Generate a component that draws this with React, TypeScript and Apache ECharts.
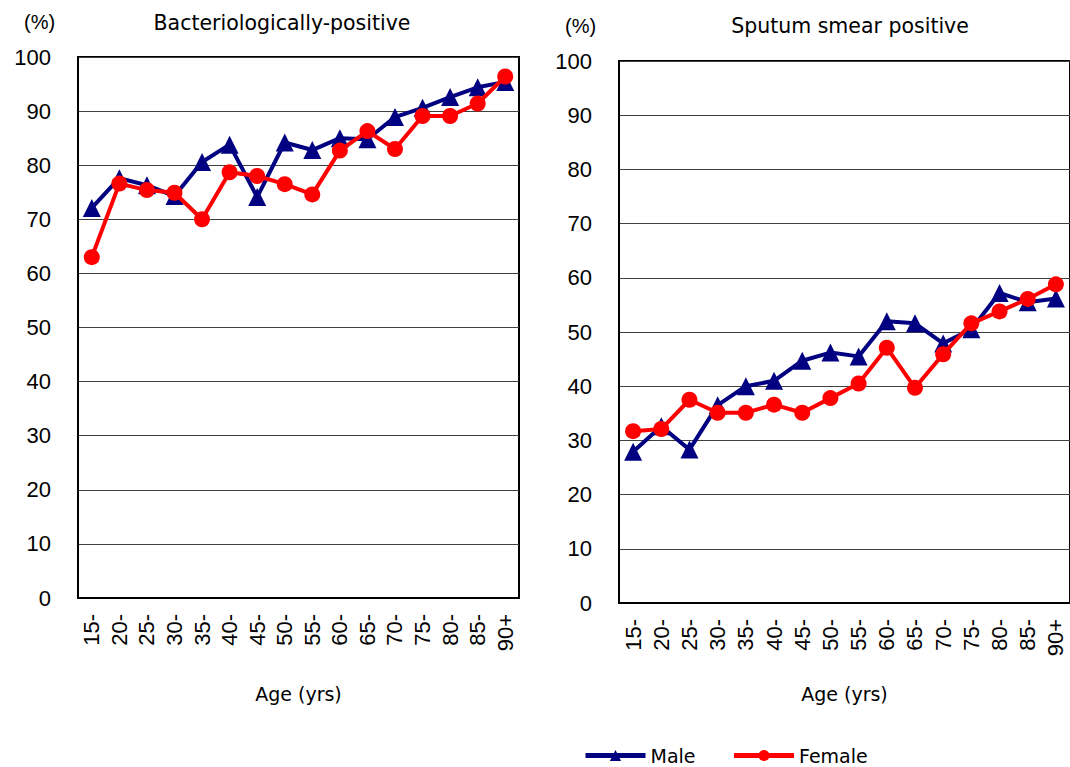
import React, { useEffect, useRef } from "react";
import * as echarts from "echarts";

const ageGroups = ["15-", "20-", "25-", "30-", "35-", "40-", "45-", "50-", "55-", "60-", "65-", "70-", "75-", "80-", "85-", "90+"];

const bactMale = [72.1, 77.6, 76.3, 74.3, 80.6, 83.8, 74.1, 84.2, 82.8, 85.0, 84.8, 88.9, 90.6, 92.6, 94.4, 95.4];
const bactFemale = [63.0, 76.6, 75.4, 74.9, 70.0, 78.7, 78.0, 76.5, 74.6, 82.7, 86.3, 83.0, 89.1, 89.1, 91.4, 96.4];

const smearMale = [27.9, 32.6, 28.3, 36.5, 40.0, 41.0, 44.7, 46.2, 45.5, 52.0, 51.6, 47.9, 50.5, 57.2, 55.5, 56.2];
const smearFemale = [31.7, 32.1, 37.5, 35.1, 35.1, 36.6, 35.1, 37.8, 40.5, 47.1, 39.7, 45.9, 51.6, 53.8, 56.1, 58.8];

const yTicks = { min: 0, max: 100, interval: 10 };

const FONT = "'Liberation Sans', Arial, sans-serif";
const WIDE = "'DejaVu Sans', 'Liberation Sans', sans-serif";
const NAVY = "#000080";
const RED = "#ff0000";

export default function App() {
  const ref = useRef<HTMLDivElement>(null);
  useEffect(() => {
    if (!ref.current) return;
    const chart = echarts.init(ref.current, null, { renderer: "svg" });
    const mkX = (gi: number, gap: number) => ({
      type: "category",
      gridIndex: gi,
      data: ageGroups,
      boundaryGap: true,
      axisLine: { lineStyle: { color: "#000", width: 2 } },
      axisTick: { inside: true, length: 5, lineStyle: { color: "#000", width: 1 } },
      axisLabel: { rotate: 90, fontSize: 22, color: "#000", fontFamily: FONT, margin: 16, interval: 0 },
      name: "Age (yrs)",
      nameLocation: "middle",
      nameGap: gap,
      nameTextStyle: { fontSize: 19, color: "#000", fontFamily: WIDE },
    });
    const mkY = (gi: number) => ({
      type: "value",
      gridIndex: gi,
      min: yTicks.min,
      max: yTicks.max,
      interval: yTicks.interval,
      axisLine: { show: true, lineStyle: { color: "#000", width: 2 } },
      axisTick: { show: false },
      splitLine: { lineStyle: { color: "#404040", width: 1 } },
      axisLabel: { fontSize: 22, color: "#000", fontFamily: FONT, margin: 27 },
    });
    const mkSeries = (name: string, data: number[], gi: number, male: boolean) => ({
      name,
      type: "line",
      xAxisIndex: gi,
      yAxisIndex: gi,
      data,
      symbol: male ? "triangle" : "circle",
      symbolSize: male ? 18 : 16,
      lineStyle: { color: male ? NAVY : RED, width: 4 },
      itemStyle: { color: male ? NAVY : RED },
      z: male ? 2 : 3,
    });
    const ts = { fontSize: 20.5, fontWeight: "normal", color: "#000", fontFamily: WIDE };
    chart.setOption({
      animation: false,
      backgroundColor: "#fff",
      textStyle: { fontFamily: FONT },
      title: [
        { text: "Bacteriologically-positive", left: 277, top: 7, textAlign: "center", textStyle: ts },
        { text: "Sputum smear positive", left: 845, top: 10, textAlign: "center", textStyle: ts },
        { text: "(%)", left: 19, top: 7, textStyle: { ...ts, fontSize: 20, fontFamily: FONT } },
        { text: "(%)", left: 560, top: 11, textStyle: { ...ts, fontSize: 20, fontFamily: FONT } },
      ],
      legend: {
        data: ["Male", "Female"],
        left: 578,
        top: 741,
        itemWidth: 60,
        itemHeight: 14,
        itemGap: 36,
        lineStyle: { width: 5 },
        textStyle: { fontSize: 19, color: "#000", fontFamily: WIDE },
      },
      grid: [
        { left: 78, top: 57, width: 441, height: 541, show: true, borderColor: "#000", borderWidth: 2, backgroundColor: "transparent" },
        { left: 619, top: 61, width: 453, height: 542, show: true, borderColor: "#000", borderWidth: 2, backgroundColor: "transparent" },
      ],
      xAxis: [mkX(0, 86), mkX(1, 81)],
      yAxis: [mkY(0), mkY(1)],
      series: [
        mkSeries("Male", bactMale, 0, true),
        mkSeries("Female", bactFemale, 0, false),
        mkSeries("Male", smearMale, 1, true),
        mkSeries("Female", smearFemale, 1, false),
      ],
    });
    return () => chart.dispose();
  }, []);
  return <div ref={ref} style={{ position: "fixed", left: 0, top: 0, width: 1070, height: 767, background: "#fff" }} />;
}
